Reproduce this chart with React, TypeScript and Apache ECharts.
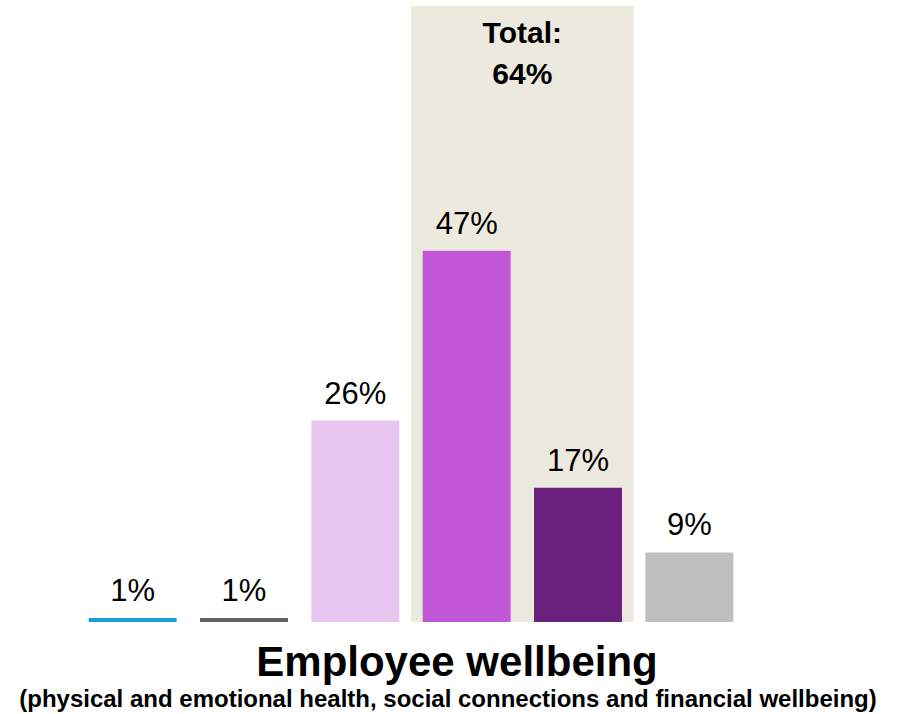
import React, { useEffect, useRef } from "react";
import * as echarts from "echarts";

const categories = ["A", "B", "C", "D", "E", "F"];
const values = [0.5, 0.5, 25.5, 47, 17, 8.8];
const barColors = ["#18a0d6", "#5f6167", "#e9c6ef", "#c157d6", "#6b1f7e", "#bfbfbf"];
const highlightCategories = [3, 4];
const highlightText = "Total:\n64%";
const titleText = "Employee wellbeing";
const subtitleText = "(physical and emotional health, social connections and financial wellbeing)";

const FONT = "'Liberation Sans', Arial, Helvetica, sans-serif";

export default function App() {
  const ref = useRef<HTMLDivElement>(null);
  useEffect(() => {
    if (!ref.current) return;
    const chart = echarts.init(ref.current, undefined, { renderer: "svg" });
    chart.setOption({
      animation: false,
      grid: { left: 77, right: 153, top: 2, bottom: 92, containLabel: false },
      xAxis: {
        type: "category",
        data: categories,
        axisLine: { show: false },
        axisTick: { show: false },
        axisLabel: { show: false },
      },
      yAxis: {
        type: "value",
        min: 0,
        max: 78.5,
        show: false,
        splitLine: { show: false },
      },
      series: [
        {
          type: "bar",
          z: 5,
          barCategoryGap: "21%",
          data: values.map((v, i) => ({ value: v, itemStyle: { color: barColors[i] } })),
          label: {
            show: true,
            position: "top",
            distance: 12,
            fontSize: 31,
            fontFamily: FONT,
            color: "#000",
            formatter: (p: any) => `${Math.round(p.value)}%`,
          },
        },
      ],
    });

    const c0 = chart.convertToPixel({ xAxisIndex: 0 }, categories[0]) as number;
    const c1 = chart.convertToPixel({ xAxisIndex: 0 }, categories[1]) as number;
    const band = c1 - c0;
    const hl0 = chart.convertToPixel({ xAxisIndex: 0 }, categories[highlightCategories[0]]) as number;
    const hl1 = chart.convertToPixel(
      { xAxisIndex: 0 },
      categories[highlightCategories[highlightCategories.length - 1]]
    ) as number;
    const yTop = chart.convertToPixel({ yAxisIndex: 0 }, 78) as number;
    const yBase = chart.convertToPixel({ yAxisIndex: 0 }, 0) as number;
    const x0 = hl0 - band / 2;
    const x1 = hl1 + band / 2;

    chart.setOption({
      graphic: [
        {
          type: "rect",
          z: 0,
          silent: true,
          shape: { x: x0, y: yTop, width: x1 - x0, height: yBase - yTop },
          style: { fill: "#ece9df" },
        },
        {
          type: "text",
          z: 10,
          x: (x0 + x1) / 2,
          y: 12,
          style: {
            text: highlightText,
            fontSize: 30,
            fontWeight: "bold",
            fontFamily: FONT,
            fill: "#000",
            align: "center",
            verticalAlign: "top",
            lineHeight: 41,
          },
        },
        {
          type: "text",
          x: 457,
          y: 661,
          style: {
            text: titleText,
            fontSize: 42,
            fontWeight: "bold",
            fontFamily: FONT,
            fill: "#000",
            align: "center",
            verticalAlign: "middle",
          },
        },
        {
          type: "text",
          x: 448,
          y: 698,
          style: {
            text: subtitleText,
            fontSize: 24,
            fontWeight: "bold",
            fontFamily: FONT,
            fill: "#000",
            align: "center",
            verticalAlign: "middle",
          },
        },
      ],
    });

    return () => chart.dispose();
  }, []);
  return (
    <div
      ref={ref}
      style={{ position: "fixed", left: 0, top: 0, width: 898, height: 714, background: "#fff" }}
    />
  );
}
